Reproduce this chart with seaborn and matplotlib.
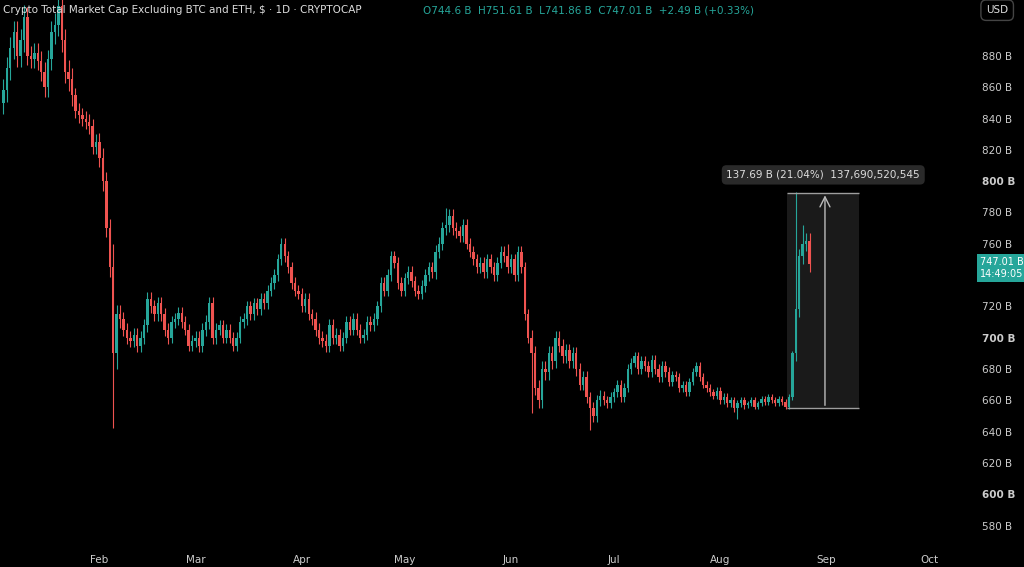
import matplotlib
matplotlib.use("Agg")
import matplotlib.pyplot as plt
import matplotlib.patches as mpatches
import seaborn as sns
import numpy as np
import pandas as pd

# daily closes, Jan 4 .. Aug 27 (day index 3 ..)
start_day = 3
closes = [
    858, 872, 885, 895, 880, 890, 905,
    880, 878, 882, 877, 870, 860, 878,
    895, 900, 912, 890, 870, 865, 855,
    845, 842, 840, 838, 835, 822, 825,
    815, 800, 770, 745, 690, 715, 712,
    705, 700, 698, 702, 695, 700, 708,
    725, 720, 715, 722, 715, 705, 700,
    710, 712, 716, 710, 705, 695, 698,
    700, 695, 705, 710, 722, 700, 705,
    708, 700, 705, 700, 695, 700, 710,
    712, 720, 715, 722, 718, 725, 722,
    730, 735, 740, 750, 760, 752, 745,
    735, 730, 728, 720, 725, 715, 712,
    705, 700, 698, 695, 708, 700, 702,
    695, 700, 710, 705, 712, 705, 700,
    702, 710, 708, 712, 720, 735, 730,
    740, 752, 748, 735, 730, 738, 742,
    736, 730, 728, 733, 740, 745, 742,
    755, 760, 770, 772, 778, 770, 768,
    765, 772, 760, 755, 750, 745, 748,
    742, 750, 745, 740, 748, 755, 752,
    745, 750, 740, 755, 745, 715, 700,
    690, 668, 660, 680, 678, 690, 685,
    700, 695, 688, 692, 685, 690, 680,
    670, 675, 662, 655, 650, 660, 663,
    660, 658, 662, 665, 670, 662, 668,
    680, 684, 688, 680, 685, 682, 678,
    686, 680, 675, 682, 678, 672, 676,
    675, 668, 670, 665, 672, 678, 682,
    675, 670, 668, 665, 663, 666, 660,
    662, 658, 660, 655, 658, 660, 657,
    658, 660, 656, 658, 661, 659, 662,
    660, 658, 661, 659, 656, 662, 690,
    718, 752, 760, 762, 747,
]
first_open = 850
# typical wick length per week
week_wick = [12, 10, 12, 8, 10, 7, 7, 6, 7, 6, 6, 6, 6, 7, 6, 6, 6, 6,
             7, 6, 6, 6, 8, 7, 6, 5, 5, 5, 4, 4, 4, 3, 3, 8]
# notable highs / lows (candle number: value)
high_over = {16: 925, 32: 760, 129: 783, 147: 760, 231: 793, 233: 772}
low_over = {32: 642, 33: 680, 171: 641, 154: 652, 214: 648}

months = ["Feb", "Mar", "Apr", "May", "Jun", "Jul", "Aug", "Sep", "Oct"]
month_day = [31, 59, 90, 120, 151, 181, 212, 243, 273]

n = len(closes)
opens = [first_open] + closes[:-1]
wick = [week_wick[i // 7] for i in range(n)]
highs = [high_over.get(i, max(o, c) + w * 0.6) for i, (o, c, w) in enumerate(zip(opens, closes, wick))]
lows = [low_over.get(i, min(o, c) - w * 0.6) for i, (o, c, w) in enumerate(zip(opens, closes, wick))]
df = pd.DataFrame({"day": np.arange(n) + start_day, "open": opens, "high": highs, "low": lows, "close": closes})

sns.set_style("dark", {"axes.facecolor": "black", "figure.facecolor": "black"})
up, down = "#26a69a", "#ef5350"

fig = plt.figure(figsize=(10.24, 5.67), dpi=100)
ax = fig.add_axes([0, 0.04, 0.948, 0.96])
ax.set_facecolor("black")

for _, r in df.iterrows():
    col = up if r.close >= r.open else down
    ax.vlines(r.day, r.low, r.high, color=col, lw=0.8)
    body = max(abs(r.close - r.open), 0.6)
    ax.add_patch(mpatches.Rectangle((r.day - 0.35, min(r.open, r.close)), 0.7, body, color=col, lw=0))

# measure box
x0, x1, y0, y1 = 231.5, 252.5, 655, 792.7
ax.add_patch(mpatches.Rectangle((x0, y0), x1 - x0, y1 - y0, facecolor="#1a1a1a", edgecolor="none", zorder=0))
ax.hlines([y0, y1], x0, x1, color="#9e9e9e", lw=1)
ax.annotate("", xy=((x0 + x1) / 2 + 0.5, y1), xytext=((x0 + x1) / 2 + 0.5, y0),
            arrowprops=dict(arrowstyle="->", color="#bbbbbb", lw=1, mutation_scale=18))
ax.text((x0 + x1) / 2, 804, "137.69 B (21.04%)  137,690,520,545", color="#dddddd", fontsize=7.5,
        ha="center", va="center", bbox=dict(boxstyle="round,pad=0.45", fc="#2a2a2a", ec="none"))

ax.set_xlim(2, 285)
ax.set_ylim(568, 915.7)
ax.set_xticks(month_day)
ax.set_xticklabels(months)
yt = [v for v in range(580, 900, 20) if v != 740]
ax.yaxis.tick_right()
ax.set_yticks(yt)
ax.set_yticklabels([f"{v} B" for v in yt])
for lab, v in zip(ax.get_yticklabels(), yt):
    if v % 100 == 0:
        lab.set_fontweight("bold")
        lab.set_color("#ffffff")
ax.tick_params(colors="#cccccc", labelsize=7.5, length=0, pad=8)
for s in ax.spines.values():
    s.set_visible(False)
ax.grid(False)

fig.text(0.003, 0.982, "Crypto Total Market Cap Excluding BTC and ETH, $ · 1D · CRYPTOCAP", color="#dddddd",
         fontsize=7.5, va="center")
fig.text(0.413, 0.982, "O744.6 B  H751.61 B  L741.86 B  C747.01 B  +2.49 B (+0.33%)", color=up,
         fontsize=7.5, va="center")
fig.text(0.963, 0.982, "USD", color="#dddddd", fontsize=7.5, va="center",
         bbox=dict(boxstyle="round,pad=0.5", fc="black", ec="#444444"))
fig.text(0.957, 0.527, "747.01 B\n14:49:05", color="white", fontsize=7, va="center",
         bbox=dict(boxstyle="square,pad=0.3", fc=up, ec="none"))

fig.savefig("out.png", dpi=100, facecolor="black")
